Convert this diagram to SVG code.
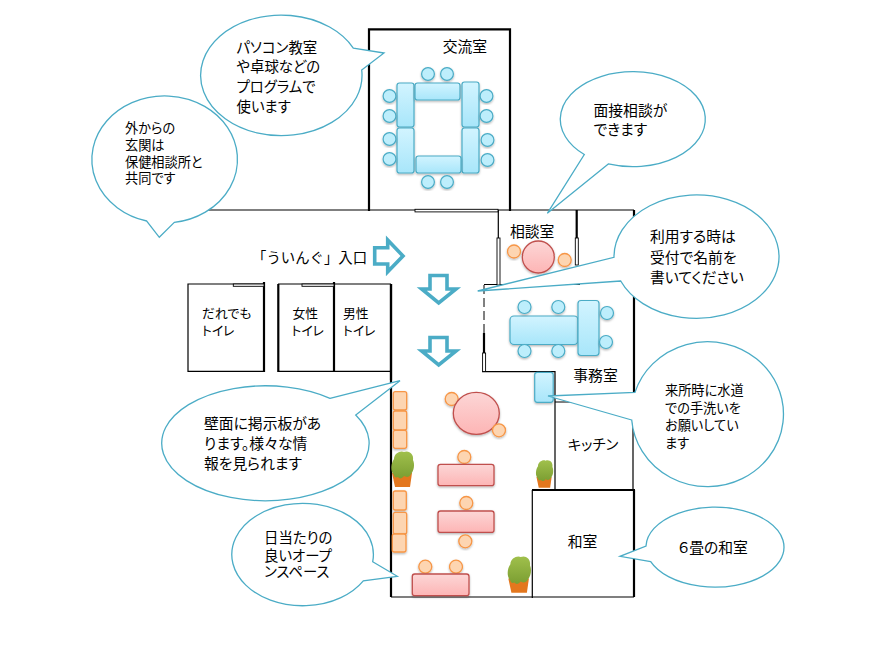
<svg xmlns="http://www.w3.org/2000/svg" xmlns:xlink="http://www.w3.org/1999/xlink" width="880" height="670" viewBox="0 0 880 670">
<style>
text{font-family:"Noto Sans CJK JP","Noto Sans",sans-serif;font-size:14.4px;fill:#000;font-feature-settings:"palt"}
.s13{font-size:13.2px}.s12{font-size:12.8px}.s15{font-size:14.8px}
.w{fill:none;stroke:#000;stroke-width:1.2}
.t{fill:none;stroke:#000;stroke-width:2.2}
.d{fill:#fff;stroke:#000;stroke-width:.9}
.b{fill:#fff;stroke:#4bacc6;stroke-width:1.3;stroke-linejoin:miter}
.a{fill:#fff;stroke:#4bacc6;stroke-width:3.6;stroke-miterlimit:6}
.bl{fill:url(#gb);stroke:#4bacc6;stroke-width:1.2;filter:url(#sh)}
.bc{fill:#bdeefc;stroke:#4bacc6;stroke-width:1.2;filter:url(#sh)}
.pk{fill:url(#gp);stroke:#c0504d;stroke-width:1.3;filter:url(#sh)}
.or{fill:#fdd5b1;stroke:#f79646;stroke-width:1.3;filter:url(#sh)}
</style>
<defs>
<linearGradient id="gb" x1="0" y1="0" x2="0" y2="1"><stop offset="0" stop-color="#d2f4ff"/><stop offset="1" stop-color="#a8e6fa"/></linearGradient>
<linearGradient id="gp" x1="0" y1="0" x2="0" y2="1"><stop offset="0" stop-color="#fcd6d6"/><stop offset="1" stop-color="#fdb5b5"/></linearGradient>
<linearGradient id="gg" x1="0" y1="0" x2="0" y2="1"><stop offset="0" stop-color="#a0c04c"/><stop offset="1" stop-color="#7b9e32"/></linearGradient>
<filter id="sh" x="-20%" y="-20%" width="140%" height="140%"><feDropShadow dx="0" dy="1.2" stdDeviation="0.8" flood-color="#000" flood-opacity="0.3"/></filter>
<g id="plant">
<polygon points="1,22 21,22 19,36 4,36" fill="#e3771e"/>
<path d="M3,24C-1,20 0,12 3,8C3,2 10,-1 13,1C18,-1 23,3 22,9C24,13 23,20 20,23C18,27 15,26 13,25C11,28 8,28 7,26C5,27 3,26 3,24Z" fill="url(#gg)"/>
</g>
</defs>
<rect width="880" height="670" fill="#fff"/>

<g id="walls">
<path class="w" d="M200,210H634M498.3,210V238M510,200V210M484,284.5H580M482,371.7H555M555,371V490M555,402H600M633,420V490M391,597H634M532.3,490V598"/>
<path class="t" d="M369,211V29.3H510V211M576.7,210V238M634,210V392M634,490V597M532,490H635M391,284V597M484,333V353"/>
<path d="M484,285V333" fill="none" stroke="#000" stroke-width="1" stroke-dasharray="9 4"/>
<rect class="d" x="415" y="209.3" width="83" height="2.6"/>
<rect class="d" x="497" y="238" width="3" height="47"/>
<rect class="d" x="575.3" y="238" width="3" height="27"/>
<rect class="d" x="482.6" y="353" width="3" height="18.5"/>
</g>

<g id="toilets">
<path class="w" d="M188,284H264V371.3H188ZM278,284H391M278,371.3H391"/>
<path class="t" d="M264,282V372M278.3,284V372M334,282V372M391,284V380"/>
<rect class="d" x="233.3" y="284" width="30.7" height="2.3"/>
<rect class="d" x="302" y="284" width="32" height="2.3"/>
<text class="s12" x="202" y="318">だれでも</text><text class="s12" x="202" y="335">トイレ</text>
<text class="s12" x="292.5" y="318">女性</text><text class="s12" x="291.5" y="335">トイレ</text>
<text class="s12" x="343" y="318">男性</text><text class="s12" x="343" y="335">トイレ</text>
</g>

<g id="room-kouryu">
<text class="s15" x="442.7" y="51.5">交流室</text>
<rect class="bl" x="397" y="83" width="17" height="44" rx="2.5"/>
<rect class="bl" x="415" y="83" width="45" height="17" rx="2.5"/>
<rect class="bl" x="462" y="82" width="17" height="45" rx="2.5"/>
<rect class="bl" x="397" y="128" width="17" height="45" rx="2.5"/>
<rect class="bl" x="462" y="128" width="17" height="45" rx="2.5"/>
<rect class="bl" x="416" y="156" width="45" height="17" rx="2.5"/>
<circle class="bc" cx="428" cy="74" r="6.4"/><circle class="bc" cx="447" cy="74" r="6.4"/>
<circle class="bc" cx="389.5" cy="96" r="6.4"/><circle class="bc" cx="389.5" cy="116" r="6.4"/>
<circle class="bc" cx="389.5" cy="139" r="6.4"/><circle class="bc" cx="389.5" cy="159" r="6.4"/>
<circle class="bc" cx="486.5" cy="96" r="6.4"/><circle class="bc" cx="486.5" cy="116" r="6.4"/>
<circle class="bc" cx="487.5" cy="140" r="6.4"/><circle class="bc" cx="487.5" cy="160" r="6.4"/>
<circle class="bc" cx="428" cy="182" r="6.4"/><circle class="bc" cx="447" cy="182" r="6.4"/>
</g>

<g id="room-soudan">
<text class="s15" x="510" y="236.5">相談室</text>
<circle class="pk" cx="538.3" cy="257" r="16"/>
<circle class="or" cx="514" cy="251.5" r="6.5"/>
<circle class="or" cx="564.7" cy="260" r="6.5"/>
</g>

<g id="room-jimu">
<text class="s15" x="573.3" y="380.5">事務室</text>
<rect class="bl" x="510" y="316" width="68" height="28.5" rx="4"/>
<rect class="bl" x="578" y="300.5" width="21" height="55" rx="3"/>
<circle class="bc" cx="524.5" cy="307" r="6.5"/><circle class="bc" cx="558.3" cy="307" r="6.5"/>
<circle class="bc" cx="524.5" cy="351" r="6.5"/><circle class="bc" cx="558.3" cy="351" r="6.5"/>
<circle class="bc" cx="607" cy="313" r="6.5"/><circle class="bc" cx="606" cy="342" r="6.5"/>
</g>

<g id="sink"><rect class="bl" x="534.7" y="372.3" width="18.5" height="30" rx="2.5"/></g>

<g id="room-open">
<circle class="or" cx="451.7" cy="399" r="6.5"/>
<ellipse class="pk" cx="476.3" cy="413.3" rx="23" ry="21"/>
<circle class="or" cx="499" cy="430.3" r="6.5"/>
<circle class="or" cx="464.3" cy="457" r="6.5"/>
<rect class="pk" x="438" y="464.3" width="56" height="21.4" rx="2.5"/>
<circle class="or" cx="466.3" cy="503" r="6.5"/>
<rect class="pk" x="438" y="511" width="56" height="21.4" rx="2.5"/>
<circle class="or" cx="465.3" cy="541.3" r="6.5"/>
<circle class="or" cx="425.3" cy="566.7" r="6.5"/>
<circle class="or" cx="456" cy="566.7" r="6.5"/>
<rect class="pk" x="412.3" y="574" width="56.7" height="21.7" rx="2.5"/>
<rect class="or" x="393.3" y="391.7" width="13.4" height="18.3" rx="2"/>
<rect class="or" x="393.3" y="411" width="13.4" height="19" rx="2"/>
<rect class="or" x="393.3" y="430.3" width="13.4" height="18" rx="2"/>
<rect class="or" x="393.3" y="491" width="13" height="19" rx="2"/>
<rect class="or" x="393.3" y="512.3" width="13.4" height="21.7" rx="2"/>
<rect class="or" x="392.3" y="534" width="13.7" height="18" rx="2"/>
<use xlink:href="#plant" href="#plant" transform="translate(391,451) scale(1,1)"/>
<use xlink:href="#plant" href="#plant" transform="translate(535.7,460) scale(.76,.77)"/>
<use xlink:href="#plant" href="#plant" transform="translate(507.3,556) scale(1.03,1.02)"/>
</g>

<g id="room-kitchen"><text x="567.7" y="449.5">キッチン</text></g>
<g id="room-washitsu"><text class="s15" x="567.7" y="546.5">和室</text></g>

<g id="entrance">
<text x="252" y="262.5" style="font-feature-settings:normal">「ういんぐ」入口</text>
<polygon class="a" points="374.7,247.7 387.7,247.7 387.7,240 403,256 387.7,271.7 387.7,264 374.7,264"/>
</g>
<g id="arrow-down-1"><polygon class="a" points="430,275.5 447,275.5 447,289 456,289 438.7,303 421.7,289 430,289"/></g>
<g id="arrow-down-2"><polygon class="a" points="430,337.5 447,337.5 447,351 456,351 438.7,365 421.7,351 430,351"/></g>

<g id="callouts">
<g id="callout-outside">
<path class="b" d="M174.3,222.4L159.3,237.3L146.7,221A72.8,63.5 0 1 1 174.3,222.4Z"/>
<text class="s13" x="125" y="133">外からの</text><text class="s13" x="125" y="150">玄関は</text><text class="s13" x="125" y="166.5">保健相談所と</text><text class="s13" x="125" y="183">共同です</text>
</g>
<g id="callout-pc">
<path class="b" d="M353.3,48.1L384,53L361.7,70A80.7,60.3 0 1 1 353.3,48.1Z"/>
<text x="236.5" y="52.5">パソコン教室</text><text x="236.5" y="72">や卓球などの</text><text x="236.5" y="92">プログラムで</text><text x="236.5" y="111.5">使います</text>
</g>
<g id="callout-mensetsu">
<path class="b" d="M608.3,163.9L547.3,213.3L584.3,154.5A72.5,47.5 0 1 1 608.3,163.9Z"/>
<text class="s15" x="593.5" y="115.5">面接相談が</text><text class="s15" x="593.5" y="135">できます</text>
</g>
<g id="callout-riyou">
<path class="b" d="M620.7,281L477.7,291L614,257.3A82.5,61.7 0 1 1 620.7,281Z"/>
<text class="s15" x="650" y="242">利用する時は</text><text class="s15" x="650" y="262.5">受付で名前を</text><text class="s15" x="650" y="282.5">書いてください</text>
</g>
<g id="callout-tearai">
<path class="b" d="M631.7,420L548,396L635,392.3A76,72.5 0 1 1 631.7,420Z"/>
<text class="s13" x="665" y="394.5">来所時に水道</text><text class="s13" x="665" y="412.5">での手洗いを</text><text class="s13" x="665" y="430">お願いしてい</text><text class="s13" x="665" y="448">ます</text>
</g>
<g id="callout-keiji">
<path class="b" d="M330,398.3L400,380.7L355.7,415A103.7,57.5 0 1 1 330,398.3Z"/>
<text class="s15" x="204" y="429">壁面に掲示板があ</text><text class="s15" x="204" y="449">ります。様々な情</text><text class="s15" x="204" y="469">報を見られます</text>
</g>
<g id="callout-open">
<path class="b" d="M372.7,561.7L397.3,576.3L363.3,580.9A70.8,51.2 0 1 1 372.7,561.7Z"/>
<text x="264" y="542.5">日当たりの</text><text x="264" y="560.5">良いオープ</text><text x="264" y="577">ンスペース</text>
</g>
<g id="callout-washitsu">
<path class="b" d="M650.7,561.7L620,556.3L646,546A69,40 0 1 1 650.7,561.7Z"/>
<text class="s15" x="678" y="553">６畳の和室</text>
</g>
</g>
</svg>
